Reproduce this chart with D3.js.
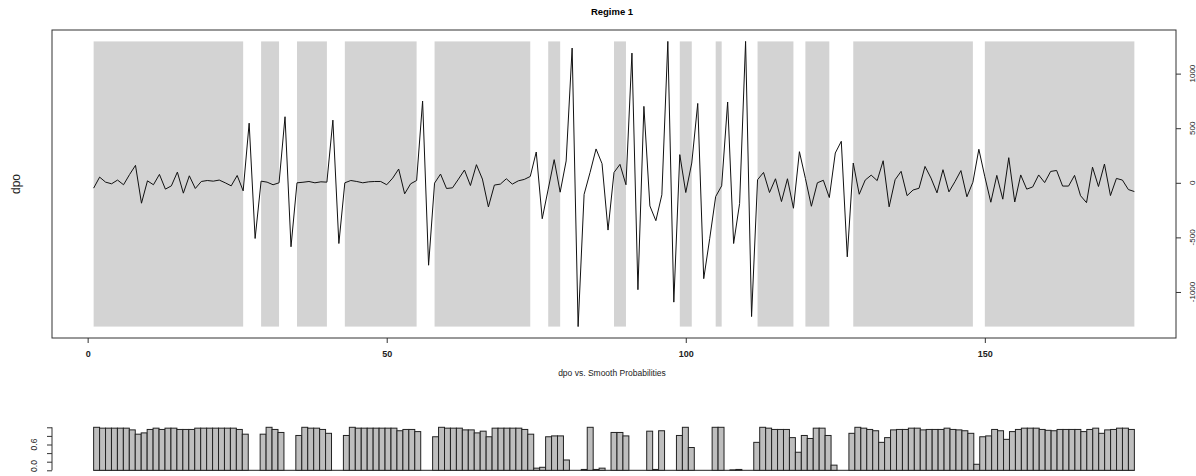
<!DOCTYPE html>
<html>
<head>
<meta charset="utf-8">
<script src="https://cdn.jsdelivr.net/npm/d3@7"></script>
<style>
  body { margin: 0; background: #fff; }
  svg { display: block; font-family: "Liberation Sans", Arial, sans-serif; }
</style>
</head>
<body>
<svg id="chart" width="1196" height="476"></svg>
<script>
// Data
let dpo = [
  -49, 52, 6, -9, 25, -18, 75, 160, -187, 18,
  -18, 77, -58, -28, 98, -95, 64, -52, 12, 21,
  15, 25, 0, -28, 67, -74, 546, -510, 15, 6,
  -18, 0, 605, -586, 0, 5, 12, 0, 9, 6,
  574, -556, 0, 21, 12, 0, 9, 12, 12, -18,
  43, 126, -101, -9, 21, 749, -755, -3, 80, -52,
  -46, 34, 117, -25, 166, 34, -221, -21, -12, 37,
  -12, 18, 31, 58, 282, -329, -58, 212, -86, 200,
  1234, -1317, -106, 95, 310, 175, -433, 95, 169, -18,
  1188, -979, 700, -212, -347, -110, 1295, -1093, 258, -89,
  181, 727, -878, -512, -126, -28, 740, -556, -190, 1295,
  -1225, 28, 95, -89, 37, -172, 37, -233, 285, 40,
  -215, 0, 23, -135, 273, 380, -678, 181, -105, 25,
  70, 20, 202, -220, 28, 105, -118, -66, -50, 150,
  43, -92, 120, -83, 10, 112, -128, 5, 307, 55,
  -178, 68, -150, 230, -176, 72, -58, -38, 72, 2,
  104, 113, -30, -30, 68, -118, -182, 143, -34, 172,
  -117, 40, 25, -62, -80
]

// smoothed probabilities of regime 1
let prob = [
  1.0, 0.98, 0.98, 0.98, 0.98, 0.98, 0.94, 0.84, 0.87, 0.95,
  0.98, 0.95, 0.98, 0.98, 0.95, 0.95, 0.95, 0.98, 0.98, 0.98,
  0.98, 0.98, 0.98, 0.98, 0.95, 0.84, 0, 0, 0.84, 1.0,
  0.95, 0.88, 0, 0, 0.81, 1.0, 0.98, 0.98, 0.95, 0.86,
  0, 0, 0.81, 1.0, 0.98, 0.98, 0.98, 0.98, 0.98, 0.98,
  0.98, 0.92, 0.95, 0.95, 0.90, 0, 0, 0.78, 1.0, 0.98,
  0.98, 0.98, 0.94, 0.94, 0.87, 0.91, 0.78, 0.98, 0.98, 0.98,
  0.98, 0.98, 0.95, 0.84, 0.05, 0.07, 0.78, 0.80, 0.80, 0.24,
  0, 0, 0.02, 1.0, 0.02, 0.05, 0, 0.88, 0.88, 0.80,
  0, 0, 0, 0.91, 0.02, 0.92, 0, 0, 0.81, 1.0,
  0.53, 0, 0, 0, 1.0, 1.0, 0, 0.01, 0.02, 0,
  0, 0.65, 1.0, 0.98, 0.95, 0.95, 0.95, 0.76, 0.42, 0.81,
  0.74, 0.98, 0.98, 0.81, 0.12, 0, 0, 0.86, 1.0, 0.98,
  0.95, 0.92, 0.65, 0.76, 0.94, 0.95, 0.95, 0.98, 0.98, 0.94,
  0.95, 0.95, 0.95, 0.98, 0.95, 0.94, 0.92, 0.86, 0.14, 0.78,
  0.80, 0.95, 0.92, 0.72, 0.90, 0.95, 0.98, 0.98, 0.98, 0.95,
  0.93, 0.92, 0.95, 0.95, 0.95, 0.95, 0.90, 0.95, 0.98, 0.86,
  0.94, 0.95, 0.98, 0.98, 0.95
]

let obs = d3.range(1, dpo.length + 1)
let xTicks = [0, 50, 100, 150]
let yTicks = [-1000, -500, 0, 500, 1000]
let pTicks = [0, 0.2, 0.4, 0.6, 0.8, 1.0]
let pLabels = [0, 0.6]

let svg = d3.select("#chart")

// Top panel
let box = {left: 52, right: 1176, top: 30, bottom: 338}

// R style 4% padding on both axes
let pad = (lo, hi) => [lo - (hi - lo) * 0.04, hi + (hi - lo) * 0.04]
let yExt = d3.extent(dpo)

let x = d3.scaleLinear().domain(pad(1, dpo.length)).range([box.left, box.right])
let y = d3.scaleLinear().domain(pad(yExt[0], yExt[1])).range([box.bottom, box.top])

// shaded runs where regime 1 probability > 0.5
let runs = []
let start = null
prob.forEach((p, i) => {
  if (p > 0.5 && start === null) start = i + 1
  if ((p <= 0.5 || i === prob.length - 1) && start !== null) {
    runs.push([start, p > 0.5 ? i + 1 : i])
    start = null
  }
})

svg.append("g").selectAll("rect")
  .data(runs.filter(r => r[1] > r[0]))
  .join("rect")
  .attr("x", d => x(d[0]))
  .attr("width", d => x(d[1]) - x(d[0]))
  .attr("y", y(yExt[1]))
  .attr("height", y(yExt[0]) - y(yExt[1]))
  .attr("fill", "#d3d3d3")

let line = d3.line()
  .x((d, i) => x(obs[i]))
  .y(d => y(d))

svg.append("path")
  .attr("d", line(dpo))
  .attr("fill", "none")
  .attr("stroke", "#111")
  .attr("stroke-width", 1)

svg.append("rect")
  .attr("x", box.left).attr("y", box.top)
  .attr("width", box.right - box.left).attr("height", box.bottom - box.top)
  .attr("fill", "none").attr("stroke", "#333")

// bottom axis
let xAxis = svg.append("g")
  .attr("transform", `translate(0,${box.bottom})`)
  .call(d3.axisBottom(x).tickValues(xTicks).tickSize(5).tickPadding(8))
xAxis.select(".domain").remove()
xAxis.selectAll("line").attr("stroke", "#333")
xAxis.selectAll("text").attr("font-size", 9).attr("font-weight", "bold").attr("fill", "#222")

// right axis, labels turned like R
let yAxis = svg.append("g")
  .attr("transform", `translate(${box.right},0)`)
  .call(d3.axisRight(y).tickValues(yTicks).tickSize(5))
yAxis.select(".domain").remove()
yAxis.selectAll("line").attr("stroke", "#333")
yAxis.selectAll("text").remove()
svg.append("g").selectAll("text")
  .data(yTicks)
  .join("text")
  .attr("transform", d => `translate(1194.5,${y(d)}) rotate(-90)`)
  .attr("text-anchor", "middle")
  .attr("font-size", 8)
  .attr("fill", "#222")
  .text(d => d)

svg.append("text")
  .attr("transform", `translate(20,${(box.top + box.bottom) / 2}) rotate(-90)`)
  .attr("text-anchor", "middle")
  .attr("font-size", 12)
  .attr("fill", "#222")
  .text("dpo")

svg.append("text")
  .attr("x", 612).attr("y", 15)
  .attr("text-anchor", "middle")
  .attr("font-size", 9.5)
  .attr("font-weight", "bold")
  .text("Regime 1")

svg.append("text")
  .attr("x", 612).attr("y", 376)
  .attr("text-anchor", "middle")
  .attr("font-size", 8.5)
  .attr("fill", "#222")
  .text("dpo vs. Smooth Probabilities")

// Bottom panel: barplot of probabilities
let xb0 = d3.scaleLinear().domain(pad(0, prob.length)).range([box.left, box.right])
let xb = d3.scaleBand().domain(obs).range([xb0(0), xb0(prob.length)]).padding(0)
let yb = d3.scaleLinear().domain([0, 1]).range([470.3, 427.3])

svg.append("line")
  .attr("x1", xb0(0)).attr("x2", xb0(prob.length))
  .attr("y1", yb(0)).attr("y2", yb(0))
  .attr("stroke", "#222")

svg.append("g").selectAll("rect")
  .data(prob)
  .join("rect")
  .attr("x", (d, i) => xb(obs[i]))
  .attr("width", xb.bandwidth())
  .attr("y", d => yb(d))
  .attr("height", d => yb(0) - yb(d))
  .attr("fill", "#bebebe")
  .attr("stroke", "#222")
  .attr("stroke-width", 1)

let pAxis = svg.append("g")
  .attr("transform", `translate(${box.left},0)`)
  .call(d3.axisLeft(yb).tickValues(pTicks).tickSize(5).tickFormat(""))
pAxis.selectAll("line").attr("stroke", "#333")
pAxis.select(".domain").attr("stroke", "#333").attr("d", `M0,${yb(0)}V${yb(1)}`)

svg.append("g").selectAll("text")
  .data(pLabels)
  .join("text")
  .attr("transform", d => `translate(37,${Math.min(yb(d), 466)}) rotate(-90)`)
  .attr("text-anchor", "middle")
  .attr("font-size", 8.5)
  .attr("fill", "#222")
  .text(d => d3.format(".1f")(d))
</script>
</body>
</html>
